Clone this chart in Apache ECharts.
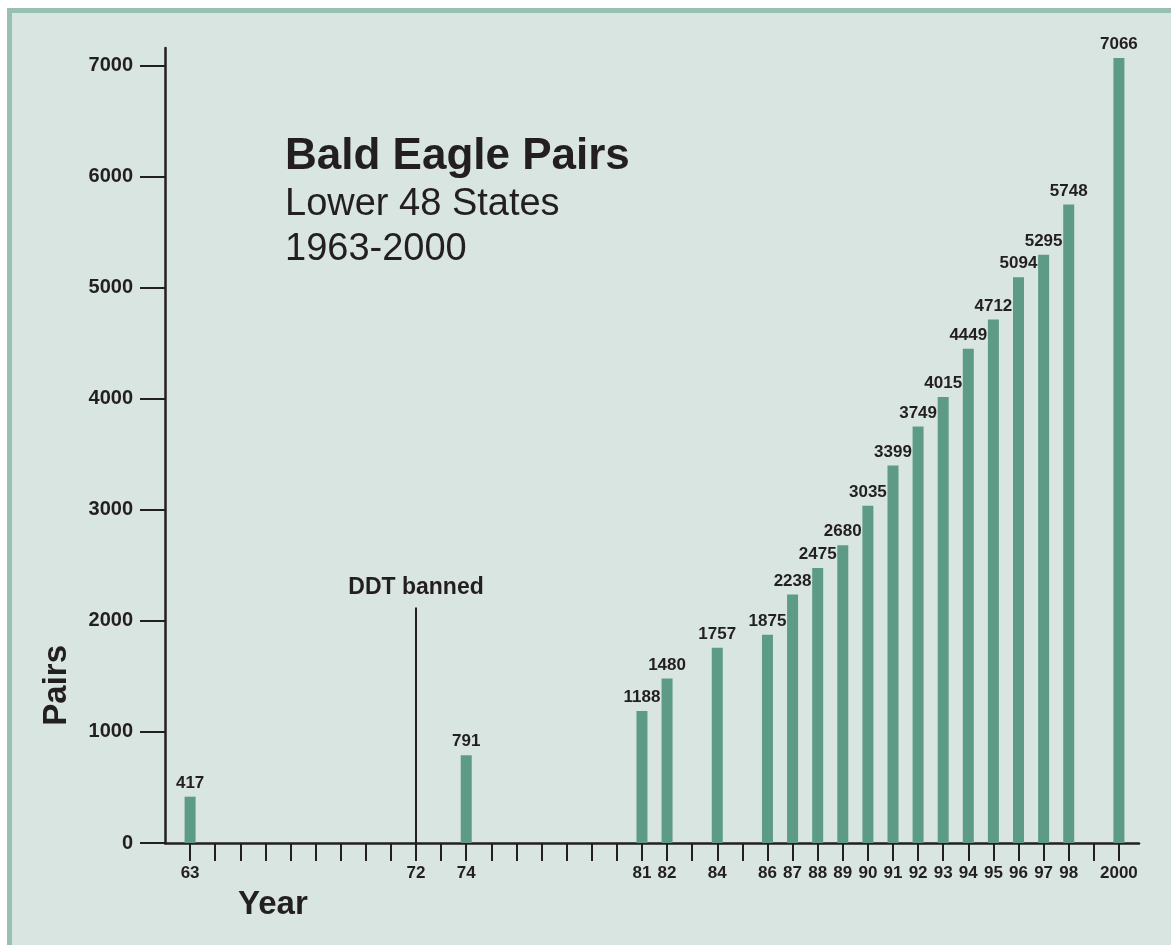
<!DOCTYPE html>
<html>
<head>
<meta charset="utf-8">
<script src="https://cdn.jsdelivr.net/npm/echarts@6/dist/echarts.min.js"></script>
<style>
  html, body { margin: 0; padding: 0; background: #ffffff; width: 1171px; height: 945px; overflow: hidden; }
  #frame { position: absolute; left: 7px; top: 8px; right: 0; bottom: 0; background: #d8e5e0; border-left: 5px solid #97c0b1; border-top: 5px solid #97c0b1; }
  #chart { position: absolute; left: 0; top: 0; width: 1171px; height: 945px; }
</style>
</head>
<body>
<div id="frame"></div>
<div id="chart"></div>
<script>
// ---- data ----
const years  = [1963, 1974, 1981, 1982, 1984, 1986, 1987, 1988, 1989, 1990, 1991, 1992, 1993, 1994, 1995, 1996, 1997, 1998, 2000];
const pairs  = [417, 791, 1188, 1480, 1757, 1875, 2238, 2475, 2680, 3035, 3399, 3749, 4015, 4449, 4712, 5094, 5295, 5748, 7066];
const tickYears  = [1963,1964,1965,1966,1967,1968,1969,1970,1971,1972,1973,1974,1975,1976,1977,1978,1979,1980,1981,1982,1983,1984,1985,1986,1987,1988,1989,1990,1991,1992,1993,1994,1995,1996,1997,1998,1999,2000];
const labelYears = [1963, 1972, 1974, 1981, 1982, 1984, 1986, 1987, 1988, 1989, 1990, 1991, 1992, 1993, 1994, 1995, 1996, 1997, 1998, 2000];
const yTicks = [0, 1000, 2000, 3000, 4000, 5000, 6000, 7000];
const ddtYear = 1972;
const ddtLineTop = 2120;

const ink = '#231f20';
const font = '"Liberation Sans", Arial, Helvetica, sans-serif';

const chart = echarts.init(document.getElementById('chart'), null, { renderer: 'canvas' });
chart.setOption({
  backgroundColor: 'transparent',
  animation: false,
  grid: { left: 165, right: 32, top: 48, bottom: 102, containLabel: false },
  xAxis: {
    type: 'value',
    min: 1962,
    max: 2000.8,
    splitLine: { show: false },
    axisLine: { show: true, onZero: false, lineStyle: { color: ink, width: 2.5 } },
    axisTick: { show: true, customValues: tickYears, length: 18, lineStyle: { color: ink, width: 2 } },
    axisLabel: {
      customValues: labelYears,
      margin: 22,
      color: ink,
      fontFamily: font,
      fontWeight: 'bold',
      fontSize: 17,
      formatter: v => (v === 2000 ? '2000' : String(v).slice(2))
    }
  },
  yAxis: {
    type: 'value',
    min: 0,
    max: 7157,
    splitLine: { show: false },
    axisLine: { show: true, lineStyle: { color: ink, width: 2.5 } },
    axisTick: { show: true, customValues: yTicks, length: 25, lineStyle: { color: ink, width: 2 } },
    axisLabel: {
      customValues: yTicks,
      margin: 32,
      color: ink,
      fontFamily: font,
      fontWeight: 'bold',
      fontSize: 20,
      formatter: v => String(v)
    }
  },
  series: [{
    type: 'bar',
    data: years.map((y, i) => [y, pairs[i]]),
    barWidth: 11,
    itemStyle: { color: '#5e9b87' },
    label: {
      show: true,
      position: 'top',
      distance: 5,
      color: ink,
      fontFamily: font,
      fontWeight: 'bold',
      fontSize: 17,
      formatter: p => String(p.value[1])
    },
    markLine: {
      silent: true,
      symbol: ['none', 'none'],
      lineStyle: { color: ink, width: 2, type: 'solid' },
      label: {
        show: true,
        position: 'end',
        distance: 8,
        formatter: 'DDT banned',
        color: ink,
        fontFamily: font,
        fontWeight: 'bold',
        fontSize: 23
      },
      data: [[{ coord: [ddtYear, 0] }, { coord: [ddtYear, ddtLineTop] }]]
    }
  }],
  graphic: [
    { type: 'text', left: 285, top: 135, style: { text: 'Bald Eagle Pairs', fill: ink, font: 'bold 44px ' + font } },
    { type: 'text', left: 285, top: 186, style: { text: 'Lower 48 States', fill: ink, font: '38px ' + font } },
    { type: 'text', left: 285, top: 231, style: { text: '1963-2000', fill: ink, font: '38px ' + font } },
    { type: 'text', left: 238, top: 888, style: { text: 'Year', fill: ink, font: 'bold 33px ' + font } },
    { type: 'text', left: 40, top: 645, rotation: Math.PI / 2, style: { text: 'Pairs', fill: ink, font: 'bold 33px ' + font } }
  ]
});
</script>
</body>
</html>
